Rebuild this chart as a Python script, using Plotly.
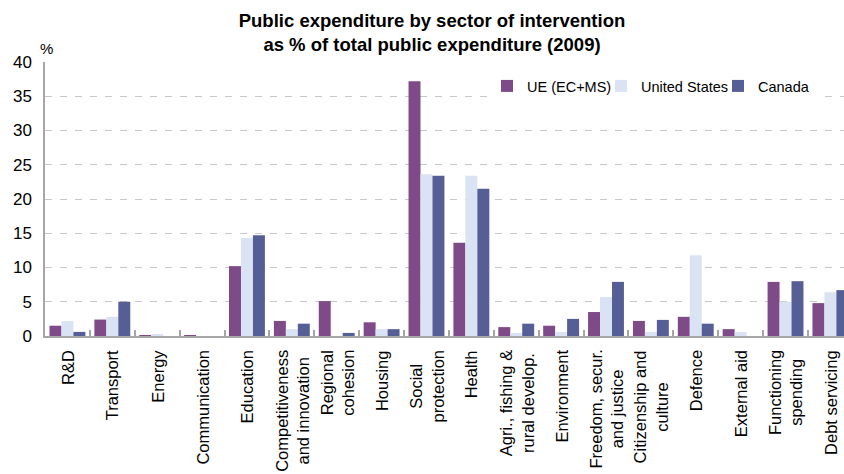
import plotly.graph_objects as go

# Sectors of intervention (x categories)
sectors = [
    "R&D", "Transport", "Energy", "Communication", "Education",
    "Competitiveness<br>and innovation", "Regional<br>cohesion", "Housing",
    "Social<br>protection", "Health", "Agri., fishing &<br>rural develop.",
    "Environment", "Freedom, secur.<br>and justice", "Citizenship and<br>culture",
    "Defence", "External aid", "Functioning<br>spending", "Debt servicing",
]

# Share of total public expenditure, % (2009)
ue_values = [1.5, 2.4, 0.1, 0.05, 10.2, 2.2, 5.1, 2.0, 37.2, 13.6, 1.3, 1.5, 3.5, 2.2, 2.8, 1.0, 7.9, 4.8]
us_values = [2.2, 2.8, 0.3, 0.0, 14.3, 1.0, 0.0, 1.0, 23.6, 23.4, 0.45, 0.6, 5.7, 0.6, 11.8, 0.6, 5.0, 6.4]
ca_values = [0.6, 5.0, 0.0, 0.0, 14.7, 1.8, 0.45, 1.0, 23.4, 21.5, 1.8, 2.5, 7.9, 2.35, 1.8, 0.0, 8.0, 6.7]

series_names = ["UE (EC+MS)", "United States", "Canada"]
y_ticks = [0, 5, 10, 15, 20, 25, 30, 35, 40]

FONT = "Liberation Sans, Arial, Helvetica, sans-serif"
colors = ["#7f4a88", "#dae3f3", "#565f95"]
legend_widths = [69, 72, 60]

fig = go.Figure()
for name, vals, col, lw in zip(series_names, [ue_values, us_values, ca_values], colors, legend_widths):
    fig.add_trace(go.Bar(
        name=name, x=sectors, y=vals, legendwidth=lw,
        marker=dict(color=col, line=dict(width=0)),
    ))

fig.update_layout(
    width=844, height=474,
    margin=dict(l=45, r=0, t=62, b=138),
    paper_bgcolor="white", plot_bgcolor="white",
    barmode="group", bargap=0.2, bargroupgap=0,
    font=dict(family=FONT, color="#000000"),
    title=dict(
        text="Public expenditure by sector of intervention<br>as % of total public expenditure (2009)",
        font=dict(size=18.5, family=FONT, color="#000000", weight="bold"),
        x=432 / 844, xanchor="center", xref="container",
        y=1 - 27 / 474, yanchor="top", yref="container",
    ),
    legend=dict(
        orientation="h", x=(487 - 45) / 799, xanchor="left",
        y=(336 - 70) / 274, yanchor="top",
        bgcolor="white", font=dict(size=14.5, family=FONT),
        itemwidth=30,
    ),
    showlegend=True,
)

fig.update_xaxes(
    type="category",
    range=[-0.5, -0.5 + 799 / 44.88],
    showticklabels=False,
    showline=True, linecolor="#a6a6a6", linewidth=1.5,
    ticks="inside", tickson="boundaries", ticklen=6, tickwidth=1.5, tickcolor="#a6a6a6",
    showgrid=False, zeroline=False,
)
fig.update_yaxes(
    range=[0, 40], tickvals=y_ticks,
    tickfont=dict(size=17, family=FONT),
    showline=True, linecolor="#a6a6a6", linewidth=1.5,
    showgrid=True, gridcolor="#c8c8c8", gridwidth=1, griddash="7px,8px",
    zeroline=False, ticks="", ticklabelstandoff=8,
)

# Rotated category labels, lines centred within each label
for s in sectors:
    fig.add_annotation(
        text=s, x=s, xref="x", yref="paper", y=(336 - 348) / 274,
        xanchor="center", yanchor="top", textangle=-90, align="center",
        showarrow=False, font=dict(size=16.5, family=FONT, color="#000000"),
    )

fig.add_annotation(
    text="%", xref="paper", yref="paper", x=(38 - 45) / 799, y=(336 - 49) / 274,
    xanchor="left", yanchor="middle", showarrow=False,
    font=dict(size=15, family=FONT, color="#000000"),
)

fig.write_html("out.html")
